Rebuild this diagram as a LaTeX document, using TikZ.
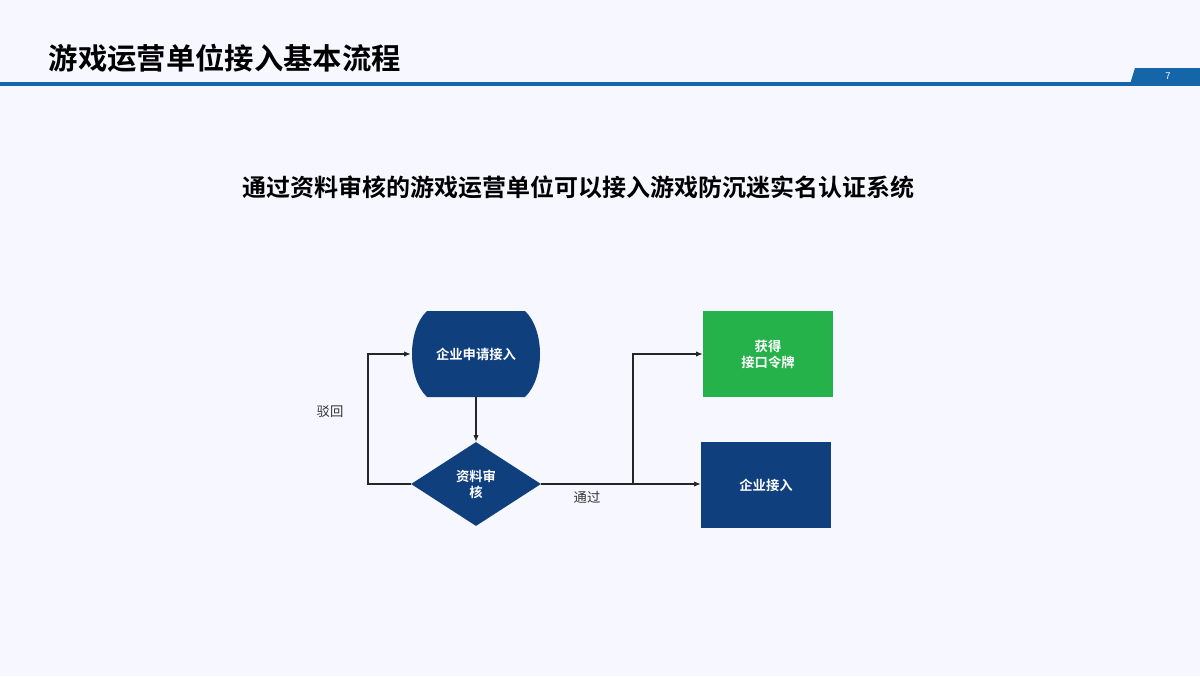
\documentclass[tikz,border=0pt]{standalone}
\usepackage{fontspec}
\setmainfont{Noto Sans CJK SC}
\newfontfamily\cjkb{Noto Sans CJK SC Bold}
\usetikzlibrary{shapes.geometric,arrows.meta}
\definecolor{navy}{HTML}{0F3F7C}
\definecolor{grn}{HTML}{26B24A}
\definecolor{bar}{HTML}{1466A8}
\tikzset{
  box/.style={fill=#1, text=white, font=\cjkb\fontsize{10}{12}\selectfont, minimum width=97.5pt, minimum height=64pt, inner sep=0pt, align=center},
  arr/.style={-{Latex[length=5pt,width=4pt]}, line width=0.8pt, black!85},
  lbl/.style={font=\fontsize{10}{12}\selectfont, text=black!80}
}
\begin{document}
\begin{tikzpicture}[x=0.75pt,y=-0.75pt]
\useasboundingbox (0,0) rectangle (1200,676);
\fill[white!97!blue] (0,0) rectangle (1200,676);
% header
\node[anchor=west, font=\cjkb\fontsize{22}{26}\selectfont] (title) at (44,58) {游戏运营单位接入基本流程};
\fill[bar] (0,82) rectangle (1200,86);
\fill[bar] (1135,68) -- (1200,68) -- (1200,84) -- (1130,84) -- cycle;
\node[text=white, font=\fontsize{7}{8}\selectfont] (pg) at (1168,76) {7};
\node[font=\cjkb\fontsize{18}{22}\selectfont] (sub) at (578,187) {通过资料审核的游戏运营单位可以接入游戏防沉迷实名认证系统};
% start shape
\fill[navy] (427,311) -- (525,311) .. controls (545,330) and (545,378) .. (525,397) -- (427,397) .. controls (407,378) and (407,330) .. (427,311) -- cycle;
\node[box=navy, fill=none] (start) at (476,354) {企业申请接入};
\node[diamond, fill=navy, text=white, font=\cjkb\fontsize{10}{12}\selectfont, minimum width=97.5pt, minimum height=63pt, inner sep=0pt, aspect=1.55, align=center] (rev) at (476,484) {资料审\\核};
\node[box=grn] (token) at (768,354) {获得\\接口令牌};
\node[box=navy] (join) at (766,485) {企业接入};
% connectors
\draw[arr] (start.south) -- (rev.north);
\coordinate (lb) at (368,484);
\coordinate (lt) at (368,354);
\draw[arr] (rev.west) -- (lb) -- (lt) -- (start.west);
\draw[arr] (rev.east) -- (join.west |- rev.east);
\coordinate (br) at (633,484);
\coordinate (bt) at (633,354);
\draw[arr] (br) -- (bt) -- (token.west);
\node[lbl] (l1) at (330,412) {驳回};
\node[lbl] (l2) at (587,497) {通过};
\end{tikzpicture}
\end{document}
